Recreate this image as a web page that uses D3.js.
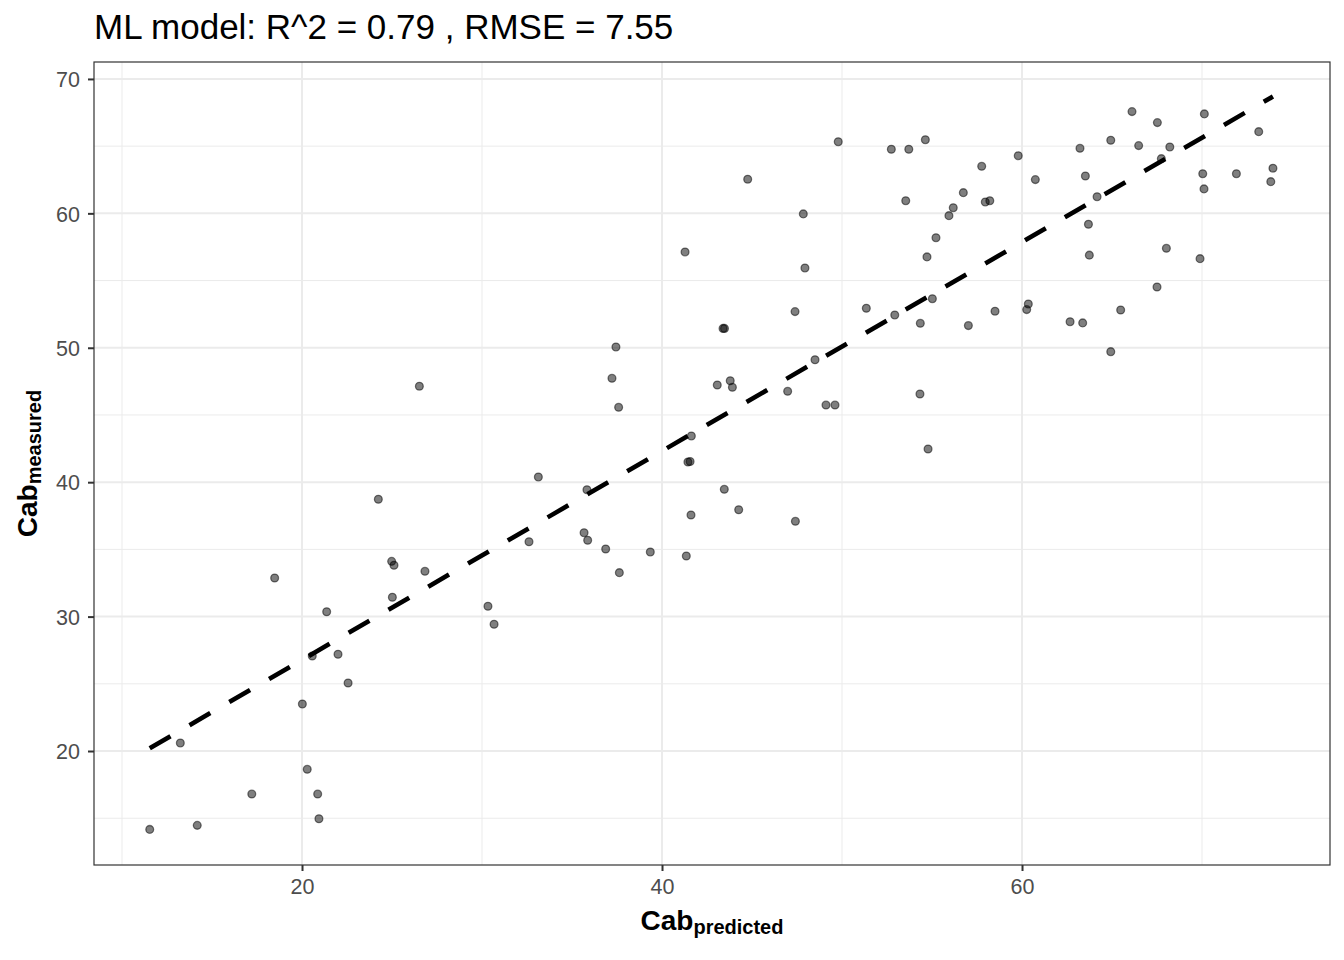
<!DOCTYPE html>
<html>
<head>
<meta charset="utf-8">
<script src="https://cdn.jsdelivr.net/npm/d3@7"></script>
<style>
  html, body { margin: 0; padding: 0; background: #fff; }
  svg { display: block; font-family: "Liberation Sans", Arial, sans-serif; }
</style>
</head>
<body>
<svg id="chart" width="1344" height="960"></svg>
<script>
// ---- data ----
const titleText = "ML model: R^2 = 0.79 , RMSE = 7.55";
const predicted = [
  11.54, 13.24, 14.18, 17.21, 18.48, 20.02, 20.29, 20.57, 20.87, 20.94,
  21.37, 22.00, 22.56, 24.24, 24.98, 25.02, 25.11, 26.52, 26.83, 30.33,
  30.67, 32.61, 33.13, 35.67, 35.87, 35.83, 36.87, 37.22, 37.44, 37.59,
  37.63, 39.35, 41.28, 41.35, 41.44, 41.56, 41.63, 41.61, 43.07, 43.39,
  43.47, 43.46, 43.79, 43.91, 44.26, 44.76, 46.98, 47.39, 47.41, 47.85,
  47.94, 48.50, 49.11, 49.61, 49.79, 51.35, 52.74, 52.93, 53.54, 53.71,
  54.35, 54.33, 54.63, 54.72, 54.78, 55.02, 55.22, 55.94, 56.18, 56.74,
  57.02, 57.76, 57.96, 58.21, 58.50, 59.79, 60.26, 60.35, 60.74, 62.67,
  63.22, 63.37, 63.52, 63.69, 63.74, 64.17, 64.93, 64.93, 65.48, 66.11,
  66.48, 67.52, 67.50, 67.74, 68.02, 68.21, 69.89, 70.04, 70.13, 70.11,
  71.91, 73.15, 73.82, 73.94
];
const measured = [
  14.17, 20.60, 14.47, 16.80, 32.87, 23.50, 18.64, 27.07, 16.80, 14.96,
  30.36, 27.20, 25.06, 38.73, 34.11, 31.44, 33.82, 47.14, 33.37, 30.77,
  29.43, 35.57, 40.39, 36.24, 35.68, 39.44, 35.03, 47.73, 50.06, 45.57,
  33.27, 34.81, 57.13, 34.51, 41.50, 41.54, 43.44, 37.56, 47.23, 51.44,
  51.44, 39.47, 47.55, 47.06, 37.95, 62.54, 46.76, 52.69, 37.09, 59.96,
  55.94, 49.11, 45.74, 45.74, 65.33, 52.94, 64.77, 52.44, 60.94, 64.77,
  51.82, 46.56, 65.48, 56.76, 42.47, 53.65, 58.19, 59.83, 60.42, 61.54,
  51.65, 63.50, 60.85, 60.94, 52.72, 64.29, 52.84, 53.26, 62.51, 51.94,
  64.84, 51.85, 62.78, 59.19, 56.89, 61.24, 49.71, 65.44, 52.81, 67.57,
  65.04, 66.75, 54.52, 64.07, 57.40, 64.94, 56.63, 62.95, 67.40, 61.82,
  62.95, 66.08, 62.36, 63.36
];
const fitIntercept = 11.24;
const fitSlope = 0.777;
const xDomain = [8.444, 77.11];
const yDomain = [11.52, 71.26];
const xMajorTicks = [20, 40, 60];
const xMinorTicks = [10, 30, 50, 70];
const yMajorTicks = [20, 30, 40, 50, 60, 70];
const yMinorTicks = [15, 25, 35, 45, 55, 65];

// ---- layout ----
const panel = { left: 94, right: 1330, top: 62, bottom: 865 };
const svg = d3.select("#chart");

const x = d3.scaleLinear().domain(xDomain).range([panel.left, panel.right]);
const y = d3.scaleLinear().domain(yDomain).range([panel.bottom, panel.top]);

svg.append("rect").attr("x", 0).attr("y", 0).attr("width", 1344).attr("height", 960).attr("fill", "#fff");

const g = svg.append("g");
g.selectAll(".xminor").data(xMinorTicks).join("line")
  .attr("x1", d => x(d)).attr("x2", d => x(d))
  .attr("y1", panel.top).attr("y2", panel.bottom)
  .attr("stroke", "#EBEBEB").attr("stroke-width", 1);
g.selectAll(".yminor").data(yMinorTicks).join("line")
  .attr("y1", d => y(d)).attr("y2", d => y(d))
  .attr("x1", panel.left).attr("x2", panel.right)
  .attr("stroke", "#EBEBEB").attr("stroke-width", 1);
g.selectAll(".xmajor").data(xMajorTicks).join("line")
  .attr("x1", d => x(d)).attr("x2", d => x(d))
  .attr("y1", panel.top).attr("y2", panel.bottom)
  .attr("stroke", "#EBEBEB").attr("stroke-width", 2);
g.selectAll(".ymajor").data(yMajorTicks).join("line")
  .attr("y1", d => y(d)).attr("y2", d => y(d))
  .attr("x1", panel.left).attr("x2", panel.right)
  .attr("stroke", "#EBEBEB").attr("stroke-width", 2);

// points
const pts = predicted.map((p, i) => ({ p, m: measured[i] }));
svg.append("g").selectAll("circle").data(pts).join("circle")
  .attr("cx", d => x(d.p)).attr("cy", d => y(d.m))
  .attr("r", 3.9)
  .attr("fill", "rgba(0,0,0,0.5)")
  .attr("stroke", "rgba(0,0,0,0.5)")
  .attr("stroke-width", 1.3);

// fitted dashed line
const xr = d3.extent(predicted);
svg.append("line")
  .attr("x1", x(xr[0])).attr("y1", y(fitIntercept + fitSlope * xr[0]))
  .attr("x2", x(xr[1])).attr("y2", y(fitIntercept + fitSlope * xr[1]))
  .attr("stroke", "#000").attr("stroke-width", 4.6)
  .attr("stroke-dasharray", "24,22");

// panel border
svg.append("rect")
  .attr("x", panel.left).attr("y", panel.top)
  .attr("width", panel.right - panel.left).attr("height", panel.bottom - panel.top)
  .attr("fill", "none").attr("stroke", "#333333").attr("stroke-width", 1.2);

// axes
const xAxis = d3.axisBottom(x).tickValues(xMajorTicks).tickSize(6).tickPadding(6);
const yAxis = d3.axisLeft(y).tickValues(yMajorTicks).tickSize(6).tickPadding(6);
const gx = svg.append("g").attr("transform", `translate(0,${panel.bottom})`).call(xAxis);
const gy = svg.append("g").attr("transform", `translate(${panel.left},0)`).call(yAxis);
[gx, gy].forEach(a => {
  a.select(".domain").remove();
  a.selectAll(".tick line").attr("stroke", "#333333").attr("stroke-width", 2);
  a.selectAll(".tick text").attr("fill", "#4D4D4D")
    .style("font-size", "21.5px").style("font-family", '"Liberation Sans", Arial, sans-serif');
});
gx.selectAll(".tick text").attr("dy", "0.71em").attr("y", 14);
gy.selectAll(".tick text").attr("x", -14).attr("dy", "0.36em");

// title
svg.append("text")
  .attr("x", panel.left).attr("y", 39)
  .attr("fill", "#000")
  .style("font-size", "35px")
  .text(titleText);

// x axis title
const xt = svg.append("text")
  .attr("x", (panel.left + panel.right) / 2).attr("y", 930)
  .attr("text-anchor", "middle")
  .style("font-weight", "bold").attr("fill", "#000");
xt.append("tspan").style("font-size", "28px").text("Cab");
xt.append("tspan").style("font-size", "20px").attr("dy", 4).text("predicted");

// y axis title
const yt = svg.append("text")
  .attr("transform", `translate(37,${(panel.top + panel.bottom) / 2}) rotate(-90)`)
  .attr("text-anchor", "middle")
  .style("font-weight", "bold").attr("fill", "#000");
yt.append("tspan").style("font-size", "28px").text("Cab");
yt.append("tspan").style("font-size", "20px").attr("dy", 4).text("measured");
</script>
</body>
</html>
